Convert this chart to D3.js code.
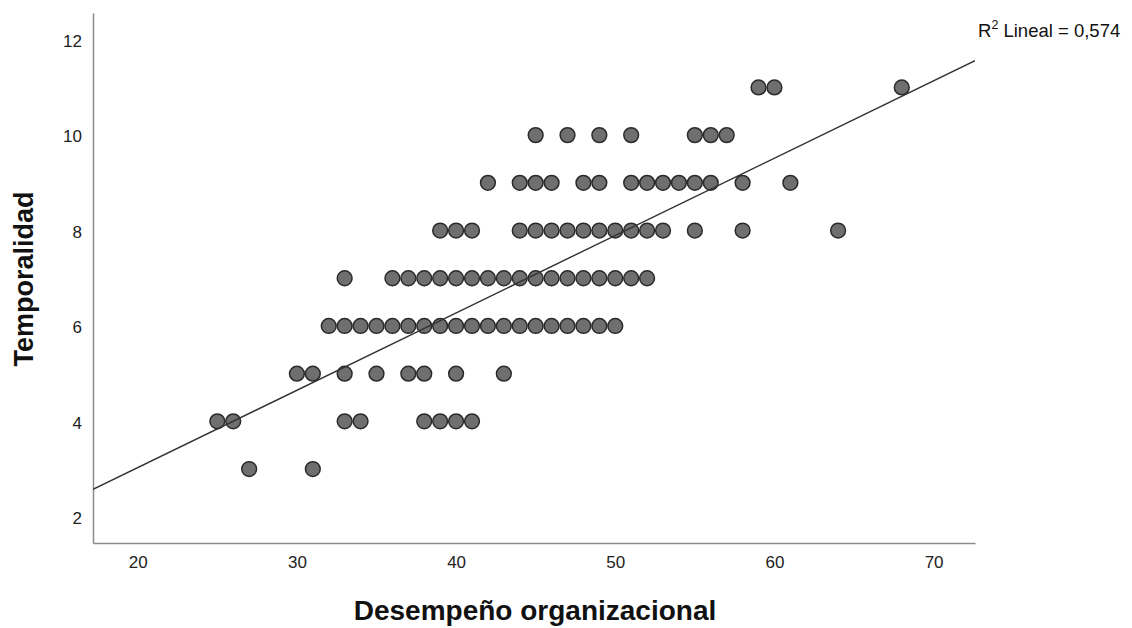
<!DOCTYPE html>
<html>
<head>
<meta charset="utf-8">
<script src="https://cdn.jsdelivr.net/npm/d3@7"></script>
<style>
  html, body { margin: 0; padding: 0; background: #fff; }
  svg { display: block; font-family: "Liberation Sans", Arial, sans-serif; }
</style>
</head>
<body>
<svg id="chart" width="1132" height="628"></svg>
<script>
// ---- data ----
const xTicks = [20, 30, 40, 50, 60, 70];
const yTicks = [2, 4, 6, 8, 10, 12];
const row11 = [59, 60, 68];
const row10 = [45, 47, 49, 51, 55, 56, 57];
const row9  = [42, 44, 45, 46, 48, 49, 51, 52, 53, 54, 55, 56, 58, 61];
const row8  = [39, 40, 41, 44, 45, 46, 47, 48, 49, 50, 51, 52, 53, 55, 58, 64];
const row7  = [33, 36, 37, 38, 39, 40, 41, 42, 43, 44, 45, 46, 47, 48, 49, 50, 51, 52];
const row6  = [32, 33, 34, 35, 36, 37, 38, 39, 40, 41, 42, 43, 44, 45, 46, 47, 48, 49, 50];
const row5  = [30, 31, 33, 35, 37, 38, 40, 43];
const row4  = [25, 26, 33, 34, 38, 39, 40, 41];
const row3  = [27, 31];
const rowValues = [11, 10, 9, 8, 7, 6, 5, 4, 3];
const rows = [row11, row10, row9, row8, row7, row6, row5, row4, row3];
const fitIntercept = -0.214;
const fitSlope = 0.1622;
const r2Text = "0,574";
const xTitle = "Desempeño organizacional";
const yTitle = "Temporalidad";

const points = [];
rows.forEach((r, i) => r.forEach(v => points.push({x: v, y: rowValues[i]})));

// ---- layout ----
const svg = d3.select("#chart");
const mLeft = 93, mRight = 975, mTop = 13, mBottom = 543;
const x = d3.scaleLinear().domain([17.19, 72.6]).range([mLeft, mRight]);
const y = d3.scaleLinear().domain([1.45, 12.56]).range([mBottom, mTop]);

const axisColor = "#8a8a8a";
const ff = "'Liberation Sans', Arial, sans-serif";

// y axis
const gy = svg.append("g").attr("transform", `translate(${mLeft},0)`)
  .call(d3.axisLeft(y).tickValues(yTicks).tickSize(0).tickSizeOuter(0).tickPadding(11).tickFormat(d3.format("d")));
gy.select(".domain").attr("stroke", axisColor).attr("stroke-width", 1.5);
gy.selectAll("text").attr("font-size", 17).attr("fill", "#222").attr("dy", "0.4em").attr("font-family", ff);

// x axis
const gx = svg.append("g").attr("transform", `translate(0,${mBottom})`)
  .call(d3.axisBottom(x).tickValues(xTicks).tickSize(0).tickSizeOuter(0).tickPadding(13).tickFormat(d3.format("d")));
gx.select(".domain").attr("stroke", axisColor).attr("stroke-width", 1.5);
gx.selectAll("text").attr("font-size", 17).attr("fill", "#222").attr("font-family", ff);

// clip
svg.append("clipPath").attr("id", "plotclip").append("rect")
  .attr("x", mLeft).attr("y", mTop).attr("width", mRight - mLeft).attr("height", mBottom - mTop);

// points
svg.append("g").selectAll("circle").data(points).join("circle")
  .attr("cx", d => x(d.x)).attr("cy", d => y(d.y)).attr("r", 7.4)
  .attr("fill", "#6f6f6f").attr("stroke", "#2a2a2a").attr("stroke-width", 1.5);

// fit line
const xd = x.domain();
svg.append("line").attr("clip-path", "url(#plotclip)")
  .attr("x1", x(xd[0])).attr("y1", y(fitIntercept + fitSlope * xd[0]))
  .attr("x2", x(xd[1])).attr("y2", y(fitIntercept + fitSlope * xd[1]))
  .attr("stroke", "#333").attr("stroke-width", 1.4);

// R2 label
const rt = svg.append("text").attr("x", 978).attr("y", 37).attr("font-size", 18.5).attr("fill", "#111");
rt.append("tspan").text("R");
rt.append("tspan").attr("font-size", 12.5).attr("dy", -8).text("2");
rt.append("tspan").attr("dy", 8).text(" Lineal = " + r2Text);

// axis titles
svg.append("text").attr("x", 535).attr("y", 620).attr("text-anchor", "middle")
  .attr("font-size", 28).attr("font-weight", "bold").attr("fill", "#111").text(xTitle);
svg.append("text").attr("transform", "translate(33,279) rotate(-90)").attr("text-anchor", "middle")
  .attr("font-size", 27).attr("font-weight", "bold").attr("fill", "#111").text(yTitle);
</script>
</body>
</html>
